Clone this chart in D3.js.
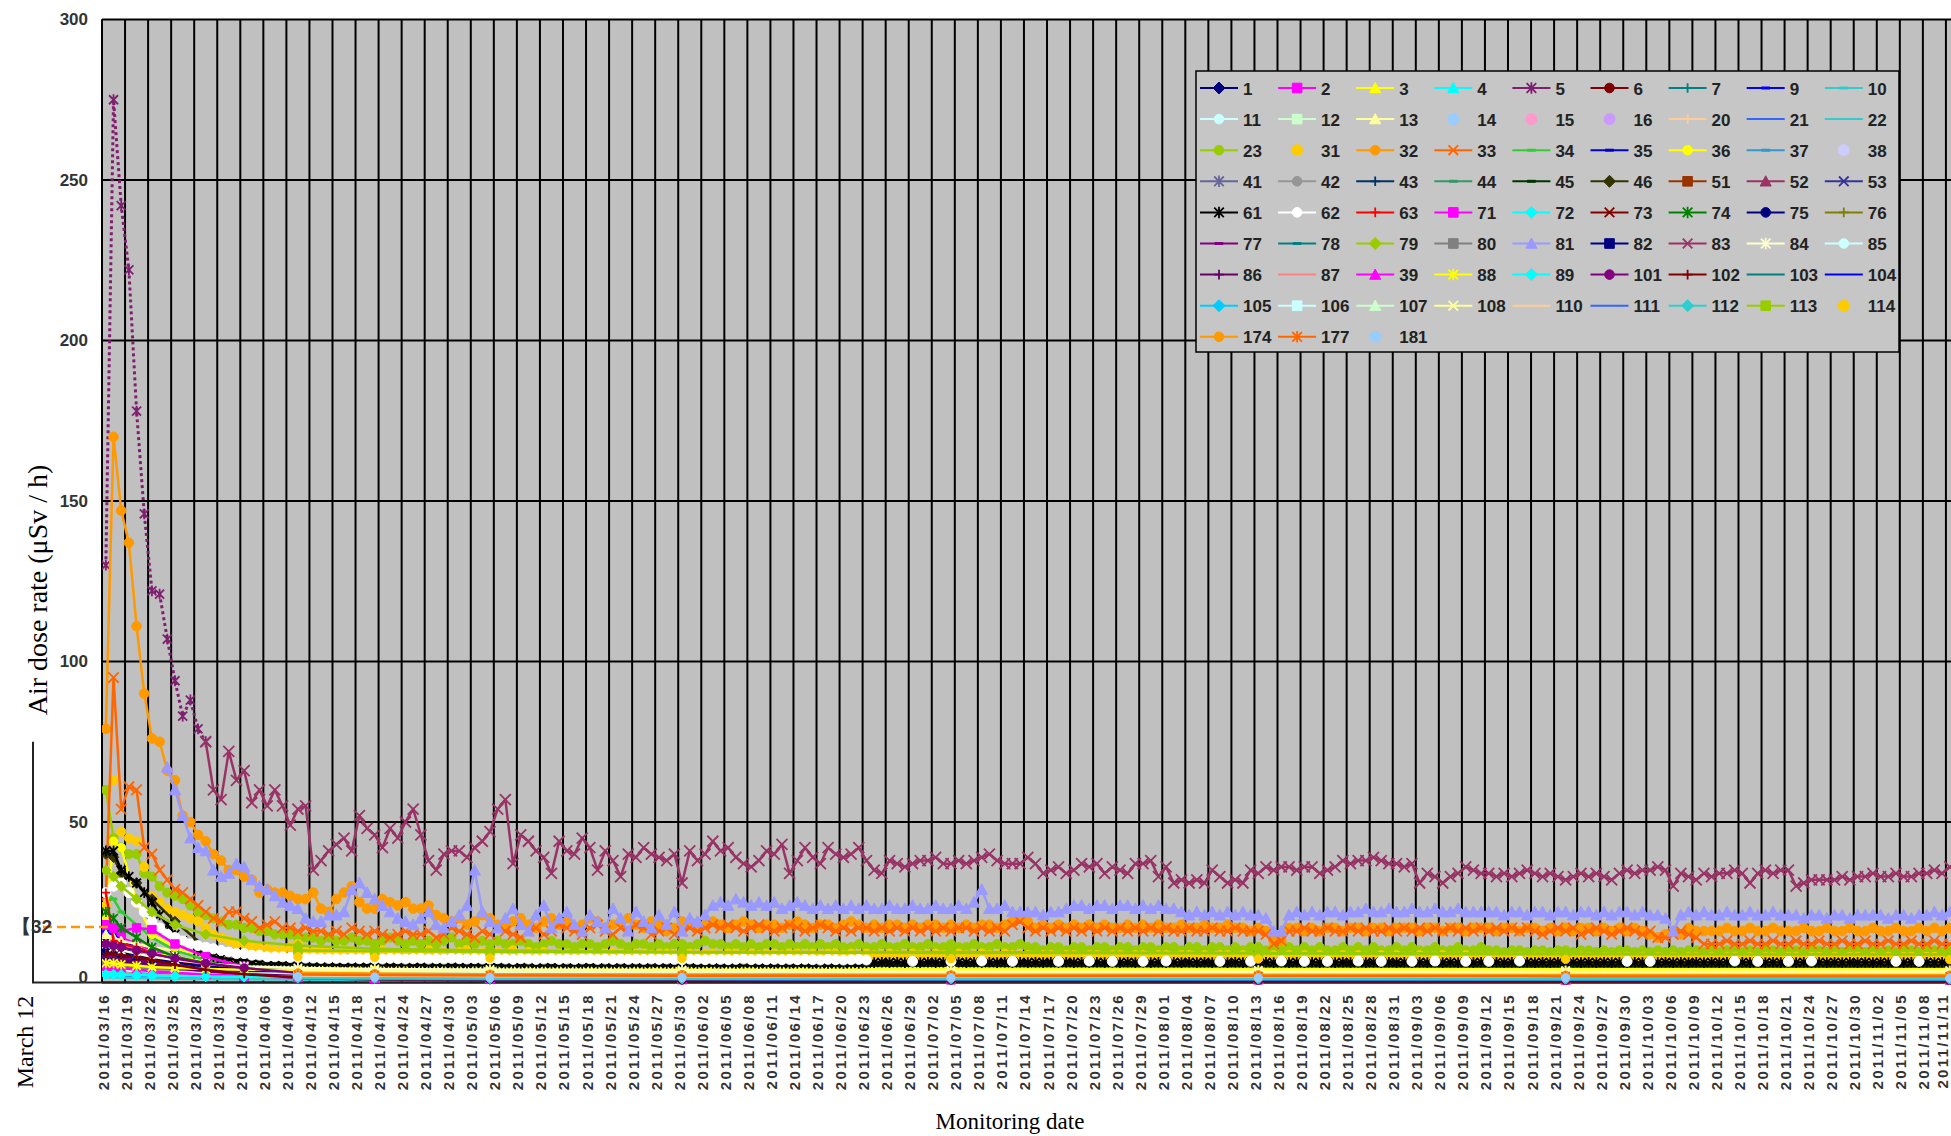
<!DOCTYPE html>
<html>
<head>
<meta charset="utf-8">
<script src="https://cdn.jsdelivr.net/npm/d3@7"></script>
<style>
  body { margin: 0; background: #fff; }
  svg { display: block; }
</style>
</head>
<body>
<svg id="chart" width="1951" height="1136"></svg>
<script>
// ---- data (uSv/h), day 0 = 2011/03/16 ----
const startDate = Date.UTC(2011, 2, 16);

const s5 = [130,275,242,222,178,146,122,121,107,94,83,88,79,75];

// from day 13
const s83 = [
  75,60,57,72,63,66,56,60,55,60,55,49,54,55,35,38,41,43,45,41,
  52,48,46,42,48,45,50,54,46,38,35,40,41,41,39,42,44,47,54,57,
  37,46,44,41,39,34,44,41,40,45,42,35,41,38,33,40,39,42,40,39,
  38,40,31,41,38,40,44,41,42,39,37,36,38,41,40,43,34,38,42,39,
  37,42,40,39,40,42,38,35,34,38,37,36,37,38,38,39,37,37,38,37,
  38,39,40,38,37,37,37,39,37,34,35,36,34,35,37,36,37,34,36,35,
  34,37,37,38,33,36,31,32,31,32,31,35,33,31,32,31,35,34,36,35,
  36,36,35,36,36,34,35,36,38,37,38,38,39,38,37,37,36,37,31,34,
  33,31,33,34,36,35,34,34,33,34,33,34,35,34,33,34,33,32,33,34,
  33,34,33,32,34,35,34,35,35,36,35,30,34,33,32,34,33,34,34,35,
  34,31,34,35,34,35,35,30,31,32,32,32,32,33,32,33,33,34,33,33,
  34,33,33,34,34,35,34,36
];

const s32 = [
  79,170,147,137,111,90,76,75,66,63,
  52,50,46,44,40,38,35,35,33,32,
  28,29,28,28,27,26,26,28,23,22,
  26,28,30,25,23,23,26,25,24,25,
  23,23,24,21,20,19,20,18,19,21,
  20,18,17,19,20,18,17,19,20,18,
  19,17,18,20,19,17,18,19,20,18,
  17,19,18,16,17,19,18,17,18,19,
  18,17,18,19,18,17,18,18,17,18,
  19,18,17,18,18,17,18,19,18,17,
  18,17,18,18,17,18,17,18,18,17,
  18,17,18,17,18,18,17,18,19,20,
  19,17,18,17,18,17,18,17,18,17,
  18,17,17,18,17,18,17,18,17,17,
  18,17,17,18,17,17,18,17,17,16,
  17,16,13,13,17,17,16,17,16,17,
  17,16,17,17,16,17,17,16,17,17,
  17,16,17,17,16,17,17,16,17,17,
  17,16,17,17,16,17,17,16,17,16,
  17,16,17,17,16,17,16,17,16,17,
  16,15,14,15,16,15,17,16,16,16,
  16,17,16,16,17,16,16,17,16,16,
  16,17,16,16,17,16,16,17,16,16,
  17,16,16,17,16,16,17,16,17,16,
  17
];

const s33 = [
  27,95,54,61,60,42,40,35,32,29,
  28,26,24,22,20,19,22,22,20,19,
  17,18,19,17,17,16,17,16,16,15,
  16,15,17,16,15,16,15,14,15,16,
  15,15,16,14,15,17,16,15,14,16,
  15,17,16,15,14,16,17,15,16,18,
  17,16,15,17,18,16,15,17,16,18,
  17,15,16,17,15,16,17,16,17,18,
  17,18,17,16,17,18,17,16,17,18,
  17,16,17,18,17,16,17,16,17,17,
  16,17,16,17,16,17,16,17,16,17,
  16,17,17,16,17,16,17,16,18,19,
  17,16,17,16,17,16,17,16,17,16,
  17,16,17,16,17,16,17,16,17,16,
  16,17,16,16,17,16,16,17,16,16,
  16,15,12,13,16,16,17,16,16,17,
  16,16,17,16,17,16,16,17,16,17,
  16,17,16,17,16,17,16,17,16,17,
  16,17,16,17,16,17,16,15,16,17,
  16,17,15,16,17,16,15,16,17,16,
  15,16,14,14,15,16,15,14,12,12,
  12,13,12,12,13,12,12,13,12,12,
  13,12,12,13,12,12,13,12,12,13,
  12,12,13,12,12,13,12,12,13,12,
  12
];

const s81 = [
  null,null,null,null,null,null,null,null,67,60,
  52,45,42,41,35,33,34,37,36,32,
  30,29,27,25,24,23,20,19,19,21,
  21,22,29,31,28,26,24,22,20,19,
  18,20,22,18,17,19,21,24,35,22,
  19,17,20,23,18,16,21,24,17,20,
  22,18,16,21,19,17,23,20,16,22,
  19,17,21,18,22,16,20,19,21,24,
  25,24,26,25,24,25,24,25,23,24,
  25,24,23,24,23,24,23,24,23,24,
  23,23,24,23,23,24,23,23,24,23,
  23,24,23,25,29,23,23,24,22,22,
  22,22,21,22,22,23,24,24,23,24,
  24,23,24,24,23,24,23,24,23,23,
  22,21,22,21,22,21,22,21,22,21,
  21,20,16,16,21,22,21,22,21,22,
  22,21,22,22,23,22,22,23,22,22,
  23,22,22,23,22,22,23,22,22,22,
  22,22,21,22,22,21,22,22,21,22,
  22,21,22,22,21,22,21,22,22,21,
  22,21,21,20,16,21,22,21,22,21,
  21,22,21,21,22,21,21,22,21,21,
  21,20,21,21,20,21,21,20,21,21,
  21,21,20,21,21,20,21,21,22,21,
  22
];

const s23 = [
  60,45,42,40,40,34,33,30,28,27,
  26,24,22,21,20,19,18,18,17,17,
  16,16,15,15,15,14,14,14,13,14,
  13,13,14,13,13,12,13,14,13,12,
  13,12,13,12,13,14,12,13,12,13,
  12,13,12,12,13,12,11,12,13,12,
  12,11,12,12,11,12,13,12,11,12,
  12,11,12,11,12,12,11,12,13,12,
  12,11,12,11,12,11,12,12,11,12,
  11,12,11,12,11,12,11,11,12,11,
  11,12,11,11,12,11,11,12,11,11,
  12,11,11,12,11,11,12,11,11,12,
  11,11,10,11,11,10,11,11,10,11,
  11,10,11,11,10,11,11,10,11,11,
  10,11,11,10,11,11,10,11,10,11,
  11,10,11,10,11,10,11,10,11,10,
  10,11,10,11,10,11,10,10,11,10,
  11,10,10,11,10,10,11,10,10,11,
  10,10,9.5,10,10,9.5,10,10,9.5,10,
  10,9.5,10,10,9.5,10,9.5,10,10,9.5,
  10,9.5,10,9.5,10,9.5,10,10,9.5,10,
  9.5,10,10,9.5,10,9.5,10,10,9.5,10,
  10,9.5,10,10,9.5,10,9.5,10,10,9.5,
  10,9.5,10,9.5,10,10,9.5,10,10,9.5,
  10
];

const s31 = [
  24,63,47,45,44,36,27,25,23,22,
  21,20,19,17,15,14,13,12,12,11,
  11,10.5,10,10,11,12,10,9.5,10,9.5,
  9,9.5,10,9,9.5,9,10,9,9.5,9,
  9.5,9,10,9,9.5,9,9.5,10,9,9.5,
  9,9.5,9,10,9,9.5,9,9.5,9,9,
  9,8.5,9,9,8.5,9,9.5,9,8.5,9,
  9,8.5,9,9,8.5,9,9,8.5,9,9,
  8.5,9,9,8.5,9,8.5,9,9,8.5,9,
  9,8.5,9,8.5,9,9,8.5,9,8.5,9,
  8.5,8.5,9,8.5,8.5,9,8.5,8.5,9,8.5,
  8.5,9,8.5,8.5,9,8.5,8.5,9,8.5,8.5,
  8.5,8,8.5,8.5,8,8.5,8.5,8,8.5,8.5,
  8,8.5,8.5,8,8.5,8.5,8,8.5,8.5,8,
  8.5,8.5,8,8.5,8,8.5,8.5,8,8.5,8,
  8.5,8,8.5,8,8.5,8,8.5,8,8.5,8,
  8,8.5,8,8.5,8,8,8.5,8,8.5,8,
  8,8.5,8,8,8.5,8,8,8.5,8,8,
  8,8,7.5,8,8,7.5,8,8,7.5,8,
  8,7.5,8,8,7.5,8,7.5,8,8,7.5,
  8,7.5,8,7.5,8,7.5,8,8,7.5,8,
  7.5,8,8,7.5,8,7.5,8,8,7.5,8,
  8,7.5,8,8,7.5,8,7.5,8,8,7.5,
  8,7.5,8,7.5,8,8,7.5,8,8,7.5,
  8
];

// white: daily until day 99, then only twice a week
const s62 = [
  28,30,31,28,25,22,19,17,15,14,
  13,12,11.5,11,10.5,10,9.5,9,9,8.5,
  8.5,8,8,8,7.8,7.8,7.6,7.6,7.5,7.5,
  7.5,7.4,7.5,7.4,7.5,7.4,7.3,7.5,7.4,7.3,
  7.4,7.5,7.3,7.4,7.3,7.5,7.4,7.3,7.4,7.3,
  7.3,7.4,7.3,7.2,7.4,7.3,7.2,7.3,7.4,7.2,
  7.3,7.2,7.3,7.4,7.2,7.3,7.2,7.3,7.2,7.3,
  7.2,7.3,7.2,7.3,7.2,7.1,7.3,7.2,7.1,7.2,
  7.2,7.1,7.2,7.3,7.1,7.2,7.1,7.2,7.1,7.2,
  7.1,7.2,7.1,7,7.2,7.1,7,7.1,7.2,7
];
const s62LateDays = [105,110,114,118,124,128,131,135,138,145,149,153,156,159,163,166,170,173,177,180,184,198,201,212,215,219,222,233,236];
const s62LateVals = [6.6,6.6,6.7,6.6,6.6,6.7,6.6,6.6,6.7,6.6,6.6,6.7,6.6,6.6,6.7,6.6,6.6,6.7,6.6,6.6,6.7,6.6,6.6,6.7,6.6,6.6,6.7,6.6,6.6];

const s61 = [
  41,41,35,33,31,28,25,21,18,15,
  13,11.5,10,9,8,7.5,7.5,7,7,6.8,
  6.6,6.5,6.4,6.5,6.3,6.2,6.3,6.1,6.2,6,
  6,5.8,6,5.9,5.8,6,5.9,5.8,5.9,6,
  5.8,5.9,5.8,6,5.9,5.8,5.9,5.8,6,5.9,
  5.8,5.9,5.8,5.9,5.8,6,5.8,5.9,5.8,5.9,
  5.8,5.9,5.8,6,5.8,5.9,5.8,5.9,5.8,5.9,
  5.8,5.9,6,5.8,5.9,5.8,5.9,5.8,6,5.9,
  5.8,5.9,5.8,5.9,6,5.8,5.9,5.8,5.9,5.8,
  5.9,6,5.8,5.9,5.8,5.9,5.8,6,5.9,6.1,
  6.2,6.3,6.2,6.3,6.2,6.3,6.2,6.3,6.2,6.3,
  6.2,6.3,6.2,6.3,6.2,6.3,6.2,6.3,6.2,6.3,
  6.2,6.3,6.2,6.3,6.2,6.3,6.2,6.3,6.2,6.3,
  6.2,6.3,6.2,6.3,6.2,6.3,6.2,6.3,6.2,6.3,
  6.2,6.3,6.2,6.3,6.2,6.3,6.2,6.3,6.2,6.3,
  6.2,6.3,6.2,6.3,6.2,6.3,6.2,6.3,6.2,6.3,
  6.2,6.3,6.2,6.3,6.2,6.3,6.2,6.3,6.2,6.3,
  6.2,6.3,6.2,6.3,6.2,6.3,6.2,6.3,6.2,6.3,
  6.2,6.3,6.2,6.3,6.2,6.3,6.2,6.3,6.2,6.3,
  6.2,6.3,6.2,6.3,6.2,6.3,6.2,6.3,6.2,6.3,
  6.2,6.3,6.2,6.3,6.2,6.3,6.2,6.3,6.2,6.3,
  6.2,6.3,6.2,6.3,6.2,6.3,6.2,6.3,6.2,6.3,
  6.2,6.3,6.2,6.3,6.2,6.3,6.2,6.3,6.2,6.3,
  6.2,6.3,6.2,6.3,6.2,6.3,6.2,6.3,6.2,6.3,
  6.2
];

// the other points, read on a few dates only
const sparseDays = [0,1,2,4,6,9,13,18,25,35,50,75,110,150,190,240];
const minorValues = {
  1:  [14,13,11,9,7,5.5,4,3,2.2,1.8,1.5,1.3,1.2,1.1,1,1],
  2:  [16,15,14,12,10,8,6,4.5,3,2.2,1.8,1.5,1.3,1.2,1.1,1],
  3:  [12,12,11,10,9,8,6.5,5.5,4.8,4.6,4.5,4.5,4.5,4.4,4.3,4.3],
  4:  [5,5,4.5,4,3.5,3,2.5,2,1.6,1.4,1.2,1.1,1,1,0.9,0.9],
  6:  [10,10,9.5,9,8,6.5,5,3.5,2.5,1.8,1.2,1,0.8,0.7,0.7,0.6],
  7:  [3,3,2.8,2.5,2.2,2,1.8,1.5,1.2,1,0.9,0.8,0.8,0.7,0.7,0.7],
  9:  [16,15,13,11,9,7,5,3.5,2.5,2,1.6,1.4,1.3,1.2,1.1,1.1],
  10: [4,4,3.5,3,2.5,2,1.7,1.4,1.2,1,0.9,0.8,0.8,0.7,0.7,0.7],
  11: [6,6,5.5,5,4.5,4,3.6,3.3,3.1,3,3,2.9,2.8,2.8,2.7,2.7],
  12: [8,8,7.5,7,6.5,6,5.5,5,4.8,4.6,4.5,4.4,4.3,4.2,4.1,4],
  13: [15,14,13,12,11,10,9,8,6.5,5.5,5,4.8,4.6,4.5,4.4,4.3],
  14: [4,4,3.8,3.6,3.4,3.2,3,2.8,2.6,2.5,2.4,2.3,2.2,2.2,2.1,2.1],
  15: [3,3,2.8,2.6,2.4,2.2,2,1.8,1.6,1.5,1.4,1.3,1.3,1.2,1.2,1.2],
  16: [5,5,4.6,4.2,3.8,3.4,3,2.6,2.3,2.1,2,1.9,1.8,1.8,1.7,1.7],
  20: [3.5,3.5,3.2,3,2.8,2.5,2.2,2,1.8,1.6,1.5,1.5,1.4,1.4,1.3,1.3],
  21: [2,2,1.8,1.7,1.6,1.5,1.4,1.3,1.2,1.1,1,1,1,0.9,0.9,0.9],
  22: [1.6,1.6,1.5,1.4,1.3,1.2,1.1,1,0.9,0.8,0.8,0.7,0.7,0.7,0.6,0.6],
  34: [28,26,22,18,14,10,7,5,3.5,2.8,2.4,2.2,2.1,2,2,1.9],
  35: [10,9,8,7,6,5,4,3,2.4,2,1.8,1.6,1.5,1.4,1.4,1.3],
  36: [20,44,42,25,15,11,8,6.5,5.5,5,4.8,4.6,4.5,4.4,4.4,4.3],
  37: [6,6,5.5,5,4.5,4,3.5,3,2.6,2.3,2.1,2,1.9,1.8,1.8,1.7],
  38: [4,4,3.7,3.4,3.1,2.8,2.5,2.3,2.1,2,1.9,1.8,1.8,1.7,1.7,1.6],
  41: [7,7,6.5,6,5.2,4.5,3.8,3.2,2.7,2.4,2.2,2,1.9,1.9,1.8,1.8],
  42: [5,5,4.7,4.4,4,3.6,3.2,2.9,2.6,2.4,2.3,2.2,2.1,2,2,2],
  43: [6,6,5.6,5.2,4.7,4.2,3.7,3.2,2.8,2.5,2.3,2.1,2,2,1.9,1.9],
  44: [5,5,4.6,4.2,3.8,3.4,3,2.6,2.3,2.1,2,1.9,1.8,1.8,1.7,1.7],
  45: [9,8.5,8,7.5,7,6.5,6,5.8,5.6,5.5,5.4,5.3,5.2,5.1,5,5],
  46: [40,39,34,31,26,19,11,8,7,6.5,6,5.8,5.6,5.5,5.5,5.4],
  51: [8,8,7.5,7,6,5,4,3.2,2.6,2.2,2,1.8,1.7,1.6,1.6,1.5],
  52: [6,6,5.6,5.2,4.6,4,3.4,2.8,2.4,2.1,1.9,1.8,1.7,1.6,1.6,1.5],
  53: [5,5,4.7,4.3,3.9,3.4,3,2.6,2.3,2.1,1.9,1.8,1.7,1.7,1.6,1.6],
  63: [28,13,12,11,9,7,5,3.5,2.5,2,1.6,1.4,1.3,1.2,1.2,1.1],
  71: [18,17,16,17,16.5,12,8,5,3,2,1.5,1.3,1.2,1.1,1,1],
  72: [3,3,2.8,2.6,2.4,2.2,2,1.8,1.6,1.5,1.4,1.3,1.3,1.2,1.2,1.2],
  73: [9,9,8.5,7.5,6.5,5,3.5,2.5,1.8,1.2,0.9,0.8,0.7,0.7,0.6,0.6],
  74: [22,20,17,14,11,8,6,4.5,3.5,3,2.7,2.5,2.4,2.3,2.2,2.2],
  75: [8,8,7.4,6.8,6,5,4,3.2,2.6,2.2,2,1.8,1.7,1.6,1.6,1.5],
  76: [6,6,5.5,5,4.4,3.8,3.2,2.7,2.3,2,1.8,1.7,1.6,1.5,1.5,1.4],
  77: [8,8,7.5,7,6,5,4,3,2.2,1.6,1.2,1,0.9,0.8,0.8,0.7],
  78: [4,4,3.7,3.4,3.1,2.8,2.5,2.2,2,1.8,1.7,1.6,1.6,1.5,1.5,1.4],
  79: [35,33,30,26,22,18,15,13,11.5,10.5,10,9.5,9.5,9.2,9,8.8],
  80: [5,5,4.7,4.4,4,3.6,3.2,2.8,2.5,2.3,2.2,2.1,2,2,1.9,1.9],
  82: [10,10,9.2,8.4,7.4,6.2,5,4,3.2,2.6,2.2,2,1.9,1.8,1.8,1.7],
  84: [12,11,10,9,8,7,6,5,4.5,4.2,4,3.9,3.8,3.8,3.7,3.7],
  85: [4,4,3.8,3.6,3.4,3.2,3,2.8,2.7,2.6,2.5,2.5,2.4,2.4,2.3,2.3],
  86: [7,7,6.6,6.2,5.5,4.5,3.5,2.6,2,1.5,1.2,1,0.9,0.9,0.8,0.8],
  87: [3,3,2.8,2.6,2.4,2.2,2,1.8,1.6,1.5,1.4,1.3,1.3,1.2,1.2,1.2],
  39: [5,5,4.5,4,3.5,3,2.5,2,1.5,1.2,1,0.9,0.8,0.8,0.7,0.7],
  88: [6,6,5.6,5.2,4.8,4.5,4.2,4,3.8,3.7,3.6,3.5,3.5,3.4,3.4,3.3],
  89: [2.5,2.5,2.4,2.3,2.2,2,1.9,1.8,1.7,1.6,1.5,1.5,1.4,1.4,1.4,1.3],
  101: [12,11.5,11,10,9,7.5,6,4.5,3,1.8,1,0.7,0.6,0.5,0.5,0.5],
  102: [9,9,8.5,8,7,5.5,4,2.6,1.5,0.9,0.6,0.5,0.5,0.5,0.4,0.4],
  103: [null,null,null,null,null,null,null,null,2,1.8,1.6,1.5,1.4,1.4,1.3,1.3],
  104: [null,null,null,null,null,null,null,null,1.5,1.4,1.3,1.2,1.2,1.1,1.1,1],
  105: [null,null,null,null,null,null,null,null,2.5,2.2,2,1.9,1.8,1.8,1.7,1.7],
  106: [null,null,null,null,null,null,null,null,3.5,3.3,3.1,3,2.9,2.9,2.8,2.8],
  107: [null,null,null,null,null,null,null,null,3,2.8,2.6,2.5,2.5,2.4,2.4,2.3],
  108: [null,null,null,null,null,null,null,null,4,3.8,3.6,3.5,3.4,3.4,3.3,3.3],
  110: [null,null,null,null,null,null,null,null,2,1.9,1.8,1.7,1.7,1.6,1.6,1.6],
  111: [null,null,null,null,null,null,null,null,1.2,1.1,1,1,0.9,0.9,0.9,0.9],
  112: [null,null,null,null,null,null,null,null,1.4,1.3,1.2,1.2,1.1,1.1,1,1],
  113: [null,null,null,null,null,null,null,null,10,9.8,9.6,9.4,9.2,9,8.8,8.7],
  114: [null,null,null,null,null,null,null,null,8,7.8,7.6,7.5,7.4,7.3,7.2,7.1],
  174: [null,null,null,null,null,null,null,null,3,2.8,2.6,2.5,2.4,2.4,2.3,2.3],
  177: [null,null,null,null,null,null,null,null,2.5,2.3,2.2,2.1,2,2,1.9,1.9],
  181: [null,null,null,null,null,null,null,null,1.8,1.7,1.6,1.6,1.5,1.5,1.5,1.4]
};

const legendOrder = [
  1,2,3,4,5,6,7,9,10,
  11,12,13,14,15,16,20,21,22,
  23,31,32,33,34,35,36,37,38,
  41,42,43,44,45,46,51,52,53,
  61,62,63,71,72,73,74,75,76,
  77,78,79,80,81,82,83,84,85,
  86,87,39,88,89,101,102,103,104,
  105,106,107,108,110,111,112,113,114,
  174,177,181
];

const yTicks = [0,50,100,150,200,250,300];
const bracketTop = 75;      // left bracket line reaches this value
const noteValue = 17.3;     // the "【32" mark
const noteText = '\u301032';

// ---- look of each series: colour, marker, line? ----
const look = {
  1:['#000080','diamond'], 2:['#ff00ff','square'], 3:['#ffff00','triangle'], 4:['#00ffff','triangle'],
  5:['#7f1f6f','asterisk'], 6:['#800000','circle'], 7:['#008080','plus'], 9:['#0000ff','dash'], 10:['#33cccc','dash'],
  11:['#ccffff','circle'], 12:['#ccffcc','square'], 13:['#ffff99','triangle'], 14:['#99ccff','circle',false],
  15:['#ff99cc','circle',false], 16:['#cc99ff','circle',false], 20:['#ffcc99','plus'], 21:['#3366ff','none'], 22:['#33cccc','none'],
  23:['#99cc00','circle'], 31:['#ffcc00','circle',false], 32:['#ff9900','circle'], 33:['#ff6600','times'],
  34:['#33cc33','dash'], 35:['#0000cc','dash'], 36:['#ffff00','circle'], 37:['#3399cc','dash'], 38:['#ccccff','circle',false],
  41:['#666699','asterisk'], 42:['#969696','circle'], 43:['#003366','plus'], 44:['#339966','dash'], 45:['#003300','dash'],
  46:['#333300','diamond'], 51:['#993300','square'], 52:['#993366','triangle'], 53:['#333399','times'],
  61:['#000000','asterisk'], 62:['#ffffff','circle'], 63:['#ff0000','plus'], 71:['#ff00ff','square'], 72:['#00ffff','diamond'],
  73:['#800000','times'], 74:['#008000','asterisk'], 75:['#000080','circle'], 76:['#808000','plus'],
  77:['#800080','dash'], 78:['#008080','dash'], 79:['#99cc00','diamond'], 80:['#808080','square'], 81:['#9999ff','triangle'],
  82:['#000080','square'], 83:['#993366','times'], 84:['#ffffcc','asterisk'], 85:['#ccffff','circle'],
  86:['#660066','plus'], 87:['#ff8080','none'], 39:['#ff00ff','triangle'], 88:['#ffff00','asterisk'], 89:['#00ffff','diamond'],
  101:['#800080','circle'], 102:['#800000','plus'], 103:['#008080','none'], 104:['#0000ff','none'],
  105:['#00ccff','diamond'], 106:['#ccffff','square'], 107:['#ccffcc','triangle'], 108:['#ffff99','times'],
  110:['#ffcc99','none'], 111:['#3366ff','none'], 112:['#33cccc','diamond'], 113:['#99cc00','square'], 114:['#ffcc00','circle',false],
  174:['#ff9900','circle'], 177:['#ff6600','asterisk'], 181:['#99ccff','circle',false]
};
// bigger marks for the busy series
const markSize = { 83: 5.5, 33: 5.2, 32: 4.8, 81: 5, 23: 4.6, 31: 4.6, 62: 5, 61: 4.4, 5: 4.5 };

// ---- build point lists ----
const daily = (vals, from = 0) => vals.map((v, i) => ({ d: from + i, v }));
const onDays = (days, vals) => days.map((d, i) => ({ d, v: vals[i] }));

const white = s62.slice();
s62LateDays.forEach((d, i) => { white[d] = s62LateVals[i]; });
for (let i = 0; i < white.length; i++) if (white[i] === undefined) white[i] = null;

const seriesPoints = {
  5: daily(s5), 83: daily(s83, 13), 32: daily(s32), 33: daily(s33), 81: daily(s81),
  23: daily(s23), 31: daily(s31), 62: daily(white), 61: daily(s61)
};
Object.keys(minorValues).forEach(k => { seriesPoints[k] = onDays(sparseDays, minorValues[k]); });

// ---- scales ----
const margin = { left: 102, top: 19.5, right: 0, bottom: 982.5 };
const dayMs = 864e5;
const x = d3.scaleUtc()
  .domain([new Date(startDate), new Date(startDate + 240.66 * dayMs)])
  .range([margin.left, 1951]);
const y = d3.scaleLinear().domain([0, 300]).range([margin.bottom, margin.top]);
const at = d => new Date(startDate + (d + 0.5) * dayMs);

const svg = d3.select('#chart');

svg.append('defs').append('clipPath').attr('id', 'plotClip')
  .append('rect')
  .attr('x', margin.left).attr('y', margin.top - 1)
  .attr('width', 1951 - margin.left).attr('height', margin.bottom - margin.top + 3);

// plot background
svg.append('rect')
  .attr('x', margin.left).attr('y', margin.top)
  .attr('width', 1951 - margin.left).attr('height', margin.bottom - margin.top)
  .attr('fill', '#c0c0c0');

// gridlines
const xTickDates = d3.utcDay.range(new Date(startDate), new Date(startDate + 241 * dayMs), 3);
svg.append('g').selectAll('line')
  .data(xTickDates)
  .enter().append('line')
  .attr('x1', d => x(d)).attr('x2', d => x(d))
  .attr('y1', margin.top).attr('y2', margin.bottom)
  .attr('stroke', '#000').attr('stroke-width', 2);

svg.append('g').selectAll('line')
  .data(yTicks)
  .enter().append('line')
  .attr('x1', margin.left).attr('x2', 1951)
  .attr('y1', d => y(d)).attr('y2', d => y(d))
  .attr('stroke', '#000').attr('stroke-width', 2);

// left border of plot
svg.append('line')
  .attr('x1', margin.left).attr('x2', margin.left)
  .attr('y1', margin.top).attr('y2', margin.bottom)
  .attr('stroke', '#000').attr('stroke-width', 2);

// extra bracket on the left, and the base line
svg.append('path')
  .attr('d', 'M33,' + y(bracketTop) + 'V' + y(0) + 'H1951')
  .attr('fill', 'none').attr('stroke', '#222').attr('stroke-width', 2);

// ---- markers ----
function markerPath(type, r) {
  switch (type) {
    case 'circle': return d3.symbol(d3.symbolCircle, Math.PI * r * r)();
    case 'square': return 'M' + (-r) + ',' + (-r) + 'h' + 2 * r + 'v' + 2 * r + 'h' + (-2 * r) + 'Z';
    case 'diamond': { const q = r * 1.25; return 'M0,' + (-q) + 'L' + q + ',0L0,' + q + 'L' + (-q) + ',0Z'; }
    case 'triangle': { const q = r * 1.15; return 'M0,' + (-q) + 'L' + q + ',' + q * 0.85 + 'L' + (-q) + ',' + q * 0.85 + 'Z'; }
    case 'plus': return 'M' + (-r) + ',0H' + r + 'M0,' + (-r) + 'V' + r;
    case 'times': return 'M' + (-r) + ',' + (-r) + 'L' + r + ',' + r + 'M' + (-r) + ',' + r + 'L' + r + ',' + (-r);
    case 'asterisk': return 'M' + (-r) + ',' + (-r) + 'L' + r + ',' + r + 'M' + (-r) + ',' + r + 'L' + r + ',' + (-r) + 'M0,' + (-r * 1.2) + 'V' + r * 1.2;
    case 'dash': return 'M' + (-r * 0.9) + ',0H' + r * 0.9;
    default: return null;
  }
}
const strokeTypes = ['plus', 'times', 'asterisk', 'dash'];
function styleMarker(sel, color, type) {
  if (strokeTypes.includes(type)) {
    sel.attr('fill', 'none').attr('stroke', color).attr('stroke-width', type === 'dash' ? 3 : 1.8);
  } else {
    sel.attr('fill', color).attr('stroke', color).attr('stroke-width', 1);
  }
}

// ---- series ----
const plot = svg.append('g').attr('clip-path', 'url(#plotClip)');
const line = d3.line()
  .defined(p => p.v != null)
  .x(p => x(at(p.d)))
  .y(p => y(p.v));

legendOrder.forEach(id => {
  const pts = seriesPoints[id];
  if (!pts) return;
  const [color, type, hasLine] = look[id];
  const g = plot.append('g').attr('class', 'series s' + id);
  if (hasLine !== false) {
    g.append('path')
      .attr('d', line(pts))
      .attr('fill', 'none')
      .attr('stroke', color)
      .attr('stroke-width', id === 5 ? 3 : 2.5)
      .attr('stroke-dasharray', id === 5 ? '3,3' : null)
      .attr('stroke-linejoin', 'round');
  }
  const mp = markerPath(type, markSize[id] || 4.2);
  if (mp) {
    const m = g.selectAll('path.m')
      .data(pts.filter(p => p.v != null))
      .enter().append('path')
      .attr('class', 'm')
      .attr('d', mp)
      .attr('transform', p => 'translate(' + x(at(p.d)) + ',' + y(p.v) + ')');
    styleMarker(m, color, type);
  }
});

// ---- axis labels ----
const fmt = d3.utcFormat('%Y/%m/%d');
svg.append('g').selectAll('text')
  .data(xTickDates)
  .enter().append('text')
  .attr('transform', d => 'translate(' + Math.min(x(d) + 1, 1942) + ',993) rotate(-90)')
  .attr('text-anchor', 'end')
  .attr('dominant-baseline', 'central')
  .attr('font-family', 'Liberation Sans, Arial, sans-serif')
  .attr('font-size', 15).attr('font-weight', 'bold')
  .attr('letter-spacing', 2.3)
  .attr('fill', '#333')
  .text(d => fmt(d));

svg.append('g').selectAll('text')
  .data(yTicks)
  .enter().append('text')
  .attr('x', 88).attr('y', d => y(d) - (d === 0 ? 5 : 0))
  .attr('text-anchor', 'end')
  .attr('dominant-baseline', 'central')
  .attr('font-family', 'Liberation Sans, Arial, sans-serif')
  .attr('font-size', 17).attr('font-weight', 'bold')
  .attr('fill', '#333')
  .text(d => d);

// note "【32" and dashed marker
svg.append('line')
  .attr('x1', 43).attr('x2', 110)
  .attr('y1', y(noteValue)).attr('y2', y(noteValue))
  .attr('stroke', '#ff9900').attr('stroke-width', 2.5)
  .attr('stroke-dasharray', '9,5');
svg.append('text')
  .attr('x', 12).attr('y', y(noteValue))
  .attr('dominant-baseline', 'central')
  .attr('font-family', 'Liberation Sans, Arial, sans-serif')
  .attr('font-size', 19).attr('font-weight', 'bold')
  .attr('fill', '#333')
  .text(noteText);

const serif = 'Liberation Serif, Times New Roman, serif';
svg.append('text')
  .attr('transform', 'translate(37,590) rotate(-90)')
  .attr('text-anchor', 'middle').attr('dominant-baseline', 'central')
  .attr('font-family', serif).attr('font-size', 28)
  .text('Air dose rate (\u03bcSv / h)');

svg.append('text')
  .attr('transform', 'translate(25,1042) rotate(-90)')
  .attr('text-anchor', 'middle').attr('dominant-baseline', 'central')
  .attr('font-family', serif).attr('font-size', 24)
  .text('March 12');

svg.append('text')
  .attr('x', 1010).attr('y', 1129)
  .attr('text-anchor', 'middle')
  .attr('font-family', serif).attr('font-size', 23)
  .text('Monitoring date');

// ---- legend ----
const legend = svg.append('g');
legend.append('rect')
  .attr('x', 1196).attr('y', 71)
  .attr('width', 703).attr('height', 281)
  .attr('fill', '#c6c6c6').attr('stroke', '#000').attr('stroke-width', 1.5);

const item = legend.selectAll('g.item')
  .data(legendOrder)
  .enter().append('g')
  .attr('class', 'item')
  .attr('transform', (d, i) => 'translate(' + (1200 + (i % 9) * 78.1) + ',' + (88 + Math.floor(i / 9) * 31.1) + ')');

item.each(function (id) {
  const g = d3.select(this);
  const [color, type, hasLine] = look[id];
  if (hasLine !== false) {
    g.append('line').attr('x1', 0).attr('x2', 38).attr('y1', 0).attr('y2', 0)
      .attr('stroke', color).attr('stroke-width', 2);
  }
  const mp = markerPath(type, hasLine === false ? 5.5 : 4.8);
  if (mp) {
    const m = g.append('path').attr('d', mp).attr('transform', 'translate(19,0)');
    styleMarker(m, color, type);
  }
  g.append('text')
    .attr('x', 43).attr('y', 1)
    .attr('dominant-baseline', 'central')
    .attr('font-family', 'Liberation Sans, Arial, sans-serif')
    .attr('font-size', 17).attr('font-weight', 'bold')
    .attr('fill', '#222')
    .text(id);
});
</script>
</body>
</html>
